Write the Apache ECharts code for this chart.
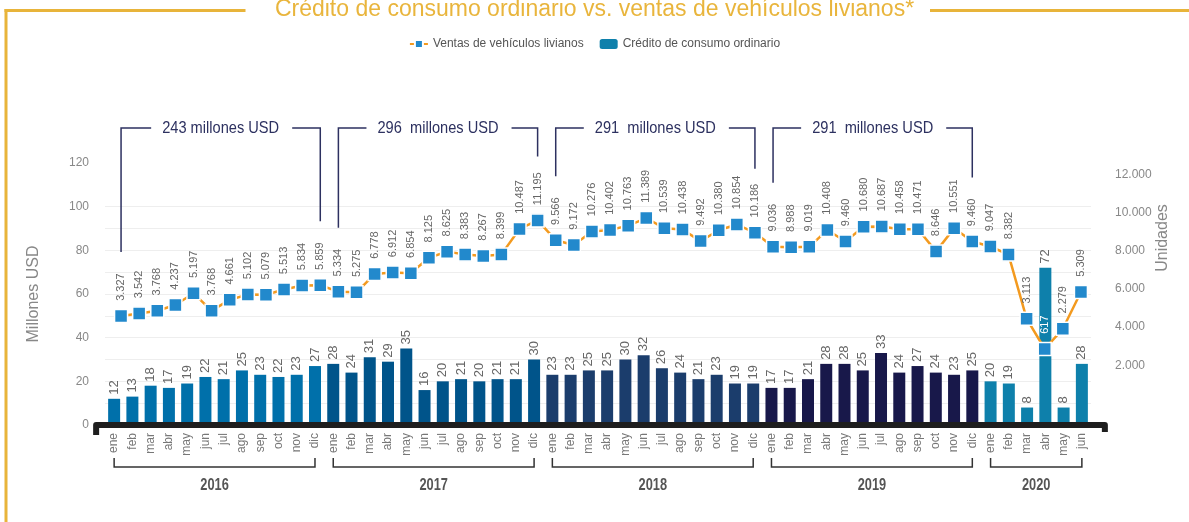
<!DOCTYPE html>
<html>
<head>
<meta charset="utf-8">
<script src="https://cdn.jsdelivr.net/npm/echarts@6/dist/echarts.min.js"></script>
<style>
    html, body { margin: 0; padding: 0; background: #fff; }
    #chart { width: 1189px; height: 522px; }
</style>
</head>
<body>
<div id="chart"></div>
<script>
"use strict";
// datos
const months = ['ene', 'feb', 'mar', 'abr', 'may', 'jun', 'jul', 'ago', 'sep', 'oct', 'nov', 'dic'];
const years = ['2016', '2017', '2018', '2019', '2020'];
const monthsPerYear = [12, 12, 12, 12, 6];
// Crédito de consumo ordinario (millones USD)
const credit = [
    12, 13, 18, 17, 19, 22, 21, 25, 23, 22, 23, 27,
    28, 24, 31, 29, 35, 16, 20, 21, 20, 21, 21, 30,
    23, 23, 25, 25, 30, 32, 26, 24, 21, 23, 19, 19,
    17, 17, 21, 28, 28, 25, 33, 24, 27, 24, 23, 25,
    20, 19, 8, 72, 8, 28
];
// Ventas de vehículos livianos (unidades)
const sales = [
    3327, 3542, 3768, 4237, 5197, 3768, 4661, 5102, 5079, 5513, 5834, 5859,
    5334, 5275, 6778, 6912, 6854, 8125, 8625, 8383, 8267, 8399, 10487, 11195,
    9566, 9172, 10276, 10402, 10763, 11389, 10539, 10438, 9492, 10380, 10854, 10186,
    9036, 8988, 9019, 10408, 9460, 10680, 10687, 10458, 10471, 8646, 10551, 9460,
    9047, 8382, 3113, 617, 2279, 5309
];
const yearTotals = ['243 millones USD', '296  millones USD', '291  millones USD', '291  millones USD'];
const yearColors = ['#0070aa', '#00548a', '#1b3d6c', '#18184a', '#0e80ab'];

(() => {
    const chart = echarts.init(document.getElementById('chart'));
    const fmt = v => String(v).replace(/\B(?=(\d{3})+(?!\d))/g, '.');
    const font = "'Liberation Sans', Arial, sans-serif";
    const lineName = 'Ventas de vehículos livianos';
    const barName = 'Crédito de consumo ordinario';

    let categories = [];
    let yearOf = [];
    let yearStart = [];
    years.forEach((y, k) => {
        yearStart.push(categories.length);
        for (let m = 0; m < monthsPerYear[k]; ++m) {
            categories.push(months[m]);
            yearOf.push(k);
        }
    });
    const n = categories.length;

    // lineas de cuadricula: 10..100 cada 10
    let gridColors = [];
    for (let i = 0; i <= 12; ++i) gridColors.push(i >= 1 && i <= 10 ? '#eeeeee' : 'rgba(0,0,0,0)');

    let option = {
        animation: false,
        textStyle: { fontFamily: font },
        title: {
            text: 'Crédito de consumo ordinario vs. ventas de vehículos livianos*',
            left: 'center',
            top: -7,
            textStyle: { color: '#e9b53c', fontSize: 23, fontWeight: 'normal', fontFamily: font }
        },
        legend: {
            top: 33,
            left: 'center',
            itemWidth: 18,
            itemHeight: 10,
            itemGap: 16,
            data: [lineName, barName],
            textStyle: { color: '#555', fontSize: 12, fontFamily: font }
        },
        grid: [
            { left: 105, right: 98, top: 163, bottom: 97 },
            { left: 112, right: 99, top: 210.6, bottom: 165.5 },
            { left: 105, right: 98, top: 174.5, bottom: 118.5 }
        ],
        xAxis: [
            {
                type: 'category', gridIndex: 0, data: categories,
                axisLine: { show: false },
                axisTick: { show: false },
                axisLabel: { interval: 0, rotate: 90, color: '#777', fontSize: 12, margin: 8 }
            },
            { type: 'category', gridIndex: 1, data: categories, show: false },
            { type: 'category', gridIndex: 2, data: categories, show: false }
        ],
        yAxis: [
            {
                type: 'value', gridIndex: 0, min: 0, max: 120, interval: 20,
                name: 'Millones USD', nameLocation: 'middle', nameGap: 63,
                nameTextStyle: { color: '#888', fontSize: 16 },
                axisLine: { show: false },
                axisTick: { show: false },
                splitLine: { show: false },
                axisLabel: { color: '#888', fontSize: 12, margin: 16 }
            },
            {
                type: 'value', gridIndex: 0, min: 0, max: 120, interval: 10,
                axisLine: { show: false }, axisTick: { show: false }, axisLabel: { show: false },
                splitLine: { show: true, lineStyle: { color: gridColors, width: 1 } }
            },
            { type: 'value', gridIndex: 1, min: 0, max: 12000, show: false },
            {
                type: 'value', gridIndex: 2, position: 'right', min: 0, max: 12000, interval: 2000,
                axisLine: { show: false },
                axisTick: { show: false },
                splitLine: { show: false },
                axisLabel: { color: '#888', fontSize: 12, margin: 24, formatter: v => v === 0 ? '' : fmt(v) }
            }
        ],
        series: [
            {
                name: barName,
                type: 'bar',
                xAxisIndex: 0,
                yAxisIndex: 0,
                barWidth: 12,
                itemStyle: { color: '#0e80ab' },
                data: credit.map((v, i) => ({ value: v, itemStyle: { color: yearColors[yearOf[i]] } })),
                label: {
                    show: true, position: 'top', rotate: 90, align: 'left', verticalAlign: 'middle',
                    distance: 4, fontSize: 13, color: '#666'
                }
            },
            {
                name: lineName,
                type: 'line',
                xAxisIndex: 1,
                yAxisIndex: 2,
                symbol: 'rect',
                symbolSize: 13,
                showAllSymbol: true,
                itemStyle: { color: '#2289cc', borderColor: '#fff', borderWidth: 1.5 },
                lineStyle: { color: '#f39a1f', width: 2.5 },
                // la etiqueta que cae dentro de una barra va en blanco
                data: sales.map(v => v < 1000 ? { value: v, label: { color: '#fff' } } : v),
                label: {
                    show: true, position: 'top', rotate: 90, align: 'left', verticalAlign: 'middle',
                    distance: 8, fontSize: 11, color: '#666', formatter: p => fmt(p.value)
                },
                labelLayout: { hideOverlap: false },
                z: 3
            }
        ]
    };
    chart.setOption(option);

    // adornos: marco, eje, llaves de años y totales
    const ctx = document.createElement('canvas').getContext('2d');
    const px = (g, i, v) => chart.convertToPixel({ gridIndex: g }, [i, v]);
    const gold = '#e8b43a';
    const navy = '#2d3160';
    let g = [];
    g.push({ type: 'rect', shape: { x: 4.5, y: 9, width: 3, height: 520 }, style: { fill: gold } });
    g.push({ type: 'rect', shape: { x: 4.5, y: 9, width: 241, height: 3 }, style: { fill: gold } });
    g.push({ type: 'rect', shape: { x: 930, y: 9, width: 259, height: 3 }, style: { fill: gold } });

    const [ax0, ay] = px(0, 0, 0);
    const [ax1] = px(0, n - 1, 0);
    g.push({
        type: 'polyline', z: 10,
        shape: { points: [[ax0 - 18, ay + 10], [ax0 - 18, ay], [ax1 + 23, ay], [ax1 + 23, ay + 7]] },
        style: { stroke: '#1e1e1e', lineWidth: 6, fill: null, lineJoin: 'round' }
    });

    years.forEach((y, k) => {
        const a = yearStart[k];
        const b = a + monthsPerYear[k] - 1;
        const xa = px(0, a, 0)[0];
        const xb = px(0, b, 0)[0];
        g.push({
            type: 'polyline',
            shape: { points: [[xa, 458], [xa, 467], [xb, 467], [xb, 458]] },
            style: { stroke: '#333', lineWidth: 1.5, fill: null }
        });
        g.push({
            type: 'text', x: (xa + xb) / 2, y: 486, scaleX: 0.8,
            style: { text: y, align: 'center', verticalAlign: 'middle', fill: '#555', font: 'bold 16px ' + font }
        });
        if (k < yearTotals.length) {
            const pa = px(1, a, sales[a]);
            const pb = px(1, b, sales[b]);
            const top = 128;
            const cx = (pa[0] + pb[0]) / 2;
            const f = '17px ' + font;
            const sx = 0.86;
            ctx.font = f;
            const w = ctx.measureText(yearTotals[k]).width * sx;
            g.push({
                type: 'polyline',
                shape: { points: [[pa[0], pa[1] - 64], [pa[0], top], [cx - w / 2 - 11, top]] },
                style: { stroke: navy, lineWidth: 1.5, fill: null }
            });
            g.push({
                type: 'polyline',
                shape: { points: [[cx + w / 2 + 13, top], [pb[0], top], [pb[0], pb[1] - 64]] },
                style: { stroke: navy, lineWidth: 1.5, fill: null }
            });
            g.push({
                type: 'text', x: cx, y: top, scaleX: sx,
                style: { text: yearTotals[k], align: 'center', verticalAlign: 'middle', fill: navy, font: f }
            });
        }
    });

    g.push({
        type: 'text', x: 1163, y: 238, rotation: Math.PI / 2,
        style: { text: 'Unidades', align: 'center', verticalAlign: 'middle', fill: '#888', font: '16px ' + font }
    });

    chart.setOption({ graphic: g });
})();
</script>
</body>
</html>
